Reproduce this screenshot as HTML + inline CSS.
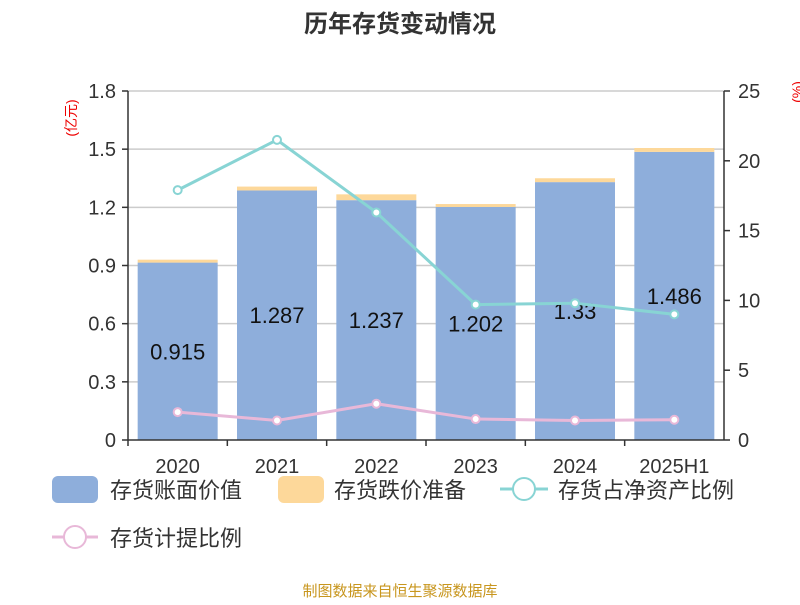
<!DOCTYPE html>
<html><head><meta charset="utf-8">
<style>
body{margin:0;background:#fff;font-family:"Liberation Sans","Noto Sans CJK SC",sans-serif;}
svg text{font-family:"Liberation Sans","Noto Sans CJK SC",sans-serif;}
</style></head>
<body>
<svg width="800" height="600" xmlns="http://www.w3.org/2000/svg">
<text x="400" y="32" text-anchor="middle" font-size="24" font-weight="bold" fill="#333">历年存货变动情况</text>
<text transform="translate(76,118) rotate(-90)" text-anchor="middle" font-size="14" fill="#e00">(亿元)</text>
<text transform="translate(802,92) rotate(-90)" text-anchor="middle" font-size="14" fill="#e00">(%)</text>
<g id="grid"></g>
<g id="bars"></g>
<g id="lines"></g>
<g id="axes"></g>
<text x="400" y="596" text-anchor="middle" font-size="15" fill="#c8961e">制图数据来自恒生聚源数据库</text>
<g>
<rect x="52" y="476" width="46" height="27" rx="6" fill="#8eaedb"/>
<text x="110" y="498" font-size="22" fill="#333">存货账面价值</text>
<rect x="278" y="476" width="46" height="27" rx="6" fill="#fdd89a"/>
<text x="334" y="498" font-size="22" fill="#333">存货跌价准备</text>
<line x1="500" y1="489" x2="548" y2="489" stroke="#88d4d4" stroke-width="3"/>
<circle cx="524" cy="489" r="11" fill="#fff" stroke="#88d4d4" stroke-width="2"/>
<text x="558" y="498" font-size="22" fill="#333">存货占净资产比例</text>
<line x1="52" y1="537" x2="98" y2="537" stroke="#e8b8d8" stroke-width="3"/>
<circle cx="75" cy="537" r="11" fill="#fff" stroke="#e8b8d8" stroke-width="2"/>
<text x="110" y="546" font-size="22" fill="#333">存货计提比例</text>
</g>
</svg>
<script>
const categories=["2020","2021","2022","2023","2024","2025H1"];
const bookValue=[0.915,1.287,1.237,1.202,1.33,1.486];
const provision=[0.015,0.02,0.03,0.015,0.02,0.02];
const ratioNetAssets=[17.9,21.5,16.3,9.7,9.8,9.0];
const provisionRatio=[2.0,1.4,2.6,1.5,1.4,1.45];
const leftTicks=["0","0.3","0.6","0.9","1.2","1.5","1.8"];
const rightTicks=["0","5","10","15","20","25"];
const NS="http://www.w3.org/2000/svg";
const X0=128,X1=724,Y0=440,Y1=91;
const step=(X1-X0)/categories.length;
const xc=i=>X0+step*(i+0.5);
const yL=v=>Y0-(v/1.8)*(Y0-Y1);
const yR=v=>Y0-(v/25)*(Y0-Y1);
function mk(t,a,p){const e=document.createElementNS(NS,t);for(const k in a)e.setAttribute(k,a[k]);p.appendChild(e);return e;}
const grid=document.getElementById('grid'),bars=document.getElementById('bars'),lines=document.getElementById('lines'),axes=document.getElementById('axes');
leftTicks.forEach(t=>{const y=yL(parseFloat(t));
 if(parseFloat(t)>0){const g=mk('line',{x1:X0,x2:X1,y1:y,y2:y,stroke:'#ccc','stroke-width':1.5},grid);
 
 }
 const tk=mk('line',{x1:X0-6,x2:X0,y1:y,y2:y,stroke:'#333','stroke-width':1.5},axes);
 
 
 const tx=mk('text',{x:X0-12,y:y+7,'text-anchor':'end','font-size':20,fill:'#333'},axes);tx.textContent=t;
 
 });
rightTicks.forEach(t=>{const y=yR(parseFloat(t));
 const tk=mk('line',{x1:X1,x2:X1+6,y1:y,y2:y,stroke:'#333','stroke-width':1.5},axes);
 
 
 const tx=mk('text',{x:X1+14,y:y+7,'font-size':20,fill:'#333'},axes);tx.textContent=t;
 
 });
let a=mk('line',{x1:X0,x2:X0,y1:Y1,y2:Y0,stroke:'#333','stroke-width':1.5},axes);


a=mk('line',{x1:X1,x2:X1,y1:Y1,y2:Y0,stroke:'#333','stroke-width':1.5},axes);


a=mk('line',{x1:X0,x2:X1,y1:Y0,y2:Y0,stroke:'#333','stroke-width':1.5},axes);


categories.forEach((c,i)=>{
 const tk=mk('line',{x1:X0+step*i,x2:X0+step*i,y1:Y0,y2:Y0+6,stroke:'#333','stroke-width':1.5},axes);
 
 
 const tx=mk('text',{x:xc(i),y:Y0+33,'text-anchor':'middle','font-size':20,fill:'#333'},axes);tx.textContent=c;
 
 
 const bw=80,x=xc(i)-bw/2;
 const b=mk('rect',{x:x,y:yL(bookValue[i]),width:bw,height:Y0-yL(bookValue[i]),fill:'#8eaedb'},bars);
 
 
 const p=mk('rect',{x:x,y:yL(bookValue[i]+provision[i]),width:bw,height:yL(bookValue[i])-yL(bookValue[i]+provision[i]),fill:'#fdd89a'},bars);
 
 
 const lb=mk('text',{x:xc(i),y:(yL(bookValue[i])+Y0)/2+8,'text-anchor':'middle','font-size':22,fill:'#111'},bars);lb.textContent=bookValue[i];
 
 
});
function series(vals,color,name){
 const pl=mk('polyline',{points:vals.map((v,i)=>xc(i)+','+yR(v)).join(' '),fill:'none',stroke:color,'stroke-width':3},lines);
 
 
 vals.forEach((v,i)=>{const c=mk('circle',{cx:xc(i),cy:yR(v),r:4,fill:'#fff',stroke:color,'stroke-width':2},lines);
 
 });
}
series(ratioNetAssets,'#88d4d4','ratio-net-assets');
series(provisionRatio,'#e8b8d8','provision-ratio');
</script>
</body></html>
